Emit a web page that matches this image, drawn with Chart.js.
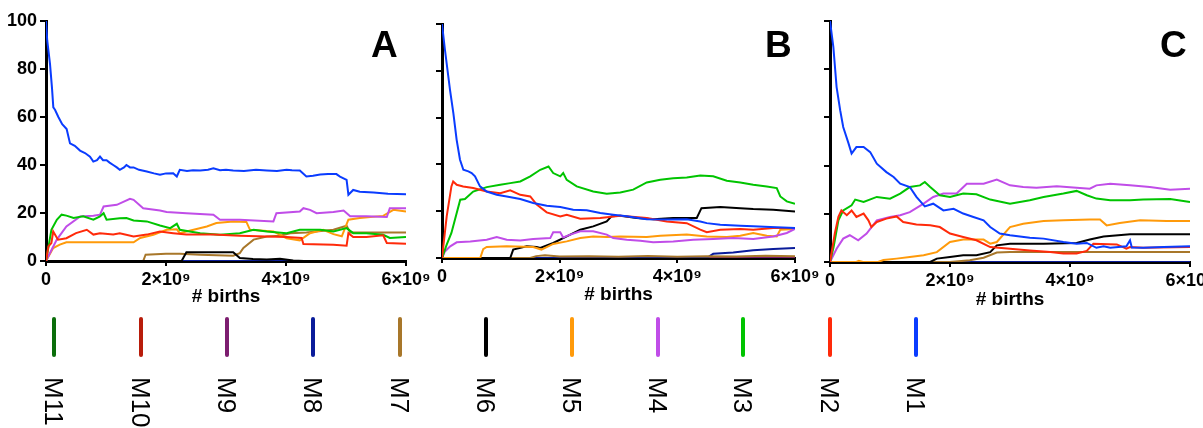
<!DOCTYPE html>
<html>
<head>
<meta charset="utf-8">
<script src="https://cdn.jsdelivr.net/npm/chart.js@4.4.1/dist/chart.umd.min.js"></script>
<style>
  html, body { margin:0; padding:0; background:#fff; width:1203px; height:428px; overflow:hidden; position:relative; font-family:"Liberation Sans", Arial, sans-serif; }
  canvas { position:absolute; top:0; }
  .letter { position:absolute; font-weight:bold; font-size:37px; line-height:1; color:#000; }
  .lbar { position:absolute; width:4px; height:40px; border-radius:2px; }
  .ltxt { position:absolute; writing-mode:vertical-rl; font-size:26px; line-height:1; color:#000; white-space:nowrap; }
</style>
</head>
<body>
<canvas id="cA" width="440" height="320" style="left:0px"></canvas>
<canvas id="cB" width="440" height="320" style="left:400px"></canvas>
<canvas id="cC" width="440" height="320" style="left:790px"></canvas>
<div class="letter" style="left:371px;top:26px">A</div>
<div class="letter" style="left:765px;top:26px">B</div>
<div class="letter" style="left:1160px;top:26px">C</div>
<div id="legend"></div>
<script>
// ---- series names, colours ----
const seriesNames = ['M1','M2','M3','M4','M5','M6','M7','M8','M9','M10','M11'];
const seriesColors = ['#0a3cff','#ff2a0a','#00c400','#c04de8','#ff9a0a','#000000','#a8772a','#0a1c9a','#7c1d6f','#b81c0a','#0b6e0b'];
const legendOrder = ['M11','M10','M9','M8','M7','M6','M5','M4','M3','M2','M1'];
// x values in units of 1e9 births; y in percent
const xTickValues = [0, 2, 4, 6];
const xTickLabels = ['0', '2×10⁹', '4×10⁹', '6×10⁹'];
const yTickValues = [0, 20, 40, 60, 80, 100];
const ZERO = [[0,0],[6,0]];

// ---- Panel A ----
const A_M1 = [[0,100],[0.02,92],[0.067,82],[0.1,72],[0.122,64],[0.15,63],[0.206,60],[0.27,57],[0.344,55],[0.4,49],[0.48,48],[0.567,46],[0.65,45],[0.733,43.5],[0.789,41.4],[0.85,42],[0.9,43.5],[0.95,42],[1.01,42],[1.06,41],[1.12,40],[1.18,39],[1.23,38],[1.3,39],[1.34,40],[1.4,39],[1.46,39],[1.55,38],[1.68,37.3],[1.8,36.5],[1.9,35.9],[2.0,36.5],[2.12,36.6],[2.18,35.2],[2.23,38],[2.35,37.5],[2.45,37.8],[2.57,37.7],[2.7,38],[2.79,38.6],[2.9,37.8],[3.0,38],[3.12,37.7],[3.3,37.5],[3.5,38],[3.68,37.7],[3.85,37.5],[4.01,38],[4.1,37.8],[4.23,37.7],[4.34,35.2],[4.45,35.5],[4.57,36],[4.7,36.2],[4.84,36.2],[4.9,35.2],[5.01,33.8],[5.04,27.6],[5.12,29.6],[5.23,28.9],[5.46,28.5],[5.7,28],[6,27.8]];
const A_M2 = [[0,0],[0.04,6.1],[0.09,7.5],[0.12,12.3],[0.2,8.9],[0.34,9.5],[0.5,11.6],[0.68,13],[0.79,11],[0.9,11.6],[1.12,11],[1.23,11.6],[1.46,10.2],[1.68,11],[1.9,12.3],[2.12,11.6],[2.34,11],[2.79,11],[3.23,10.5],[3.68,10.2],[4.01,10],[4.26,9.6],[4.29,7.1],[4.79,6.8],[5.01,6.4],[5.04,11.6],[5.12,10],[5.34,10],[5.62,10.7],[5.68,7.5],[6,7.2]];
const A_M3 = [[0,0],[0.09,13],[0.18,17.2],[0.26,19.3],[0.34,18.9],[0.46,17.9],[0.62,18.6],[0.79,17.2],[0.9,18.6],[0.96,19.9],[1.01,17.2],[1.23,17.8],[1.34,17.9],[1.46,16.9],[1.68,16.5],[1.9,14.8],[2.07,13.7],[2.18,15.5],[2.23,13],[2.57,11.6],[2.9,10.9],[3.23,11.6],[3.46,13],[3.68,12.3],[4.01,11.6],[4.23,13],[4.57,13],[4.79,12.3],[5.01,13.7],[5.12,11.6],[5.34,11.6],[5.62,10.9],[5.73,9.6],[6,10]];
const A_M4 = [[0,0],[0.1,5],[0.18,8.9],[0.34,14.4],[0.57,18.6],[0.79,18.9],[0.9,19.3],[0.96,22.7],[1.18,23.4],[1.4,25.9],[1.46,25.5],[1.62,22],[1.9,21],[2.01,20.4],[2.34,19.9],[2.79,19.3],[2.9,17.2],[3.23,17.2],[3.79,16.5],[3.84,19.9],[4.23,20.6],[4.29,22],[4.4,21.3],[4.51,19.9],[4.79,20.4],[4.96,21],[5.07,18.6],[5.34,18.6],[5.68,18.3],[5.73,22],[6,22]];
const A_M5 = [[0,0],[0.12,5.4],[0.23,6.8],[0.34,7.8],[0.68,7.8],[1.46,7.8],[1.57,9.6],[1.79,10.9],[2.01,13],[2.18,13.2],[2.23,11.6],[2.34,12.3],[2.68,14.4],[2.84,15.8],[3.12,16.5],[3.34,16.3],[3.4,13],[3.79,12.3],[4.01,9.5],[4.23,8.6],[4.4,11.6],[4.62,13],[4.79,11.2],[4.93,10.3],[5.04,17.2],[5.23,17.9],[5.62,18.8],[5.79,21.3],[6,20.6]];
const A_M6 = [[0,0],[2.26,0],[2.34,3.6],[3.12,3.6],[3.23,1.2],[3.45,0.8],[3.68,0.6],[3.9,0.9],[4.12,0.2],[4.3,0],[6,0]];
const A_M7 = [[0,0],[1.62,0],[1.66,2.6],[2.0,3],[2.23,3],[2.57,2.6],[3.12,2.2],[3.23,3.3],[3.29,5.4],[3.46,8.9],[3.68,10.2],[3.9,10.5],[4.07,11.6],[4.34,11.9],[4.79,13],[5.01,14.7],[5.07,11.9],[6,11.9]];
const A_M8 = ZERO, A_M9 = ZERO, A_M10 = ZERO, A_M11 = ZERO;

// ---- Panel B ----
const B_M1 = [[0,100],[0.05,89],[0.136,71.8],[0.193,61.9],[0.249,50.5],[0.306,42],[0.363,37.7],[0.448,37],[0.504,36.3],[0.561,34.9],[0.646,30.6],[0.76,28.4],[0.93,27],[1.1,26.3],[1.33,25.2],[1.55,23.5],[1.78,22.3],[2.01,21.8],[2.23,20.6],[2.46,20.4],[2.69,19.2],[2.91,18.5],[3.14,17.8],[3.48,16.6],[3.82,16.4],[4.16,16.6],[4.39,15.6],[4.5,14.9],[4.73,14.2],[5.07,13.8],[5.29,13.6],[5.58,13.2],[6,12.8]];
const B_M2 = [[0,0],[0.08,17.8],[0.16,30.6],[0.19,32.7],[0.25,31.3],[0.36,30.6],[0.53,29.9],[0.76,28.4],[0.99,27.7],[1.16,28.9],[1.33,27],[1.5,26.3],[1.61,22.8],[1.78,19.5],[2.01,17.8],[2.12,18.5],[2.35,16.8],[2.69,17.1],[3.03,18.1],[3.48,17.1],[3.82,15.6],[4.16,14.9],[4.39,12.1],[4.5,11],[4.73,12.1],[5.07,12.4],[5.29,12.1],[5.63,12.8],[6,12.8]];
const B_M3 = [[0,0],[0.08,5.7],[0.16,10.7],[0.25,19.2],[0.31,24.9],[0.39,25.2],[0.53,28.4],[0.76,30.3],[0.99,31.3],[1.16,32],[1.33,32.7],[1.5,34.9],[1.67,37.7],[1.81,39.1],[1.89,36.3],[2.01,34.9],[2.06,36.3],[2.12,33.4],[2.29,30.6],[2.57,28.4],[2.8,27.5],[3.03,28],[3.25,29.2],[3.48,32.3],[3.71,33.4],[3.93,34.1],[4.16,34.4],[4.39,35.3],[4.61,34.9],[4.84,33],[5.07,32.3],[5.29,31.3],[5.52,30.6],[5.69,29.9],[5.75,26.3],[5.86,24.2],[6,23.2]];
const B_M4 = [[0,0],[0.05,2.8],[0.14,5],[0.25,6.7],[0.48,7.1],[0.76,7.8],[0.93,9],[1.1,7.8],[1.33,7.5],[1.55,8.1],[1.84,8.5],[1.89,11],[2.01,11],[2.06,8.8],[2.18,10],[2.35,11.4],[2.57,11.4],[2.8,10],[2.91,8.5],[3.14,7.8],[3.37,7.4],[3.59,6.7],[3.93,7.1],[4.27,7.8],[4.61,8.1],[4.95,8.5],[5.29,8.1],[5.63,9.2],[5.86,10.7],[6,12.4]];
const B_M5 = [[0,0],[0.65,0],[0.7,3.8],[0.76,4.7],[1.1,5],[1.55,4.7],[1.69,3.6],[1.89,6],[2.12,7.1],[2.35,8.5],[2.57,9.2],[2.8,9],[3.03,9.2],[3.48,9],[3.71,9.5],[4.16,10],[4.5,9.2],[4.84,9],[5.07,9.5],[5.29,10.7],[5.52,9.5],[5.69,9.2],[5.75,12.1],[6,12.4]];
const B_M6 = [[0,0],[1.16,0],[1.21,3.6],[1.44,5],[1.61,4.7],[1.67,4.3],[1.89,6.4],[2.12,9.2],[2.35,12.1],[2.57,13.5],[2.8,15.6],[2.88,17.8],[3.03,18.1],[3.31,17.1],[3.59,16.6],[3.93,17.1],[4.33,17.1],[4.41,21.3],[4.73,21.8],[5.07,21.3],[5.29,20.9],[5.63,20.6],[6,19.9]];
const B_M7 = [[0,0],[1.5,0],[1.6,0.8],[1.75,1.2],[2.0,0.6],[2.5,0.7],[3.0,0.5],[3.5,0.9],[4.0,0.5],[4.5,0.8],[5.0,0.6],[5.5,1.0],[6,0.7]];
const B_M8 = [[0,0],[4.5,0],[4.61,1.8],[4.95,2.4],[5.29,3.3],[5.63,3.8],[6,4.3]];
const B_M9 = ZERO, B_M10 = ZERO, B_M11 = ZERO;

// ---- Panel C ----
const C_M1 = [[0,100],[0.056,89.2],[0.11,72.6],[0.17,62.9],[0.22,56],[0.31,49.1],[0.36,45],[0.44,47.7],[0.56,47.7],[0.67,45.6],[0.78,40.8],[0.94,37.3],[1.06,35.3],[1.17,32.5],[1.33,31.1],[1.44,27],[1.58,23.1],[1.72,24.2],[1.89,21.4],[2.06,22.1],[2.22,20.1],[2.39,18.7],[2.56,17.3],[2.67,14.5],[2.83,11.8],[3,11.1],[3.33,10.1],[3.56,9.7],[3.89,8.3],[4.11,7.6],[4.28,7.9],[4.44,5.9],[4.56,6.5],[4.67,5.9],[4.94,6.5],[5,9],[5.03,6],[5.22,5.9],[5.56,6.2],[6,6.5]];
const C_M2 = [[0,0],[0.08,11.8],[0.14,18.7],[0.19,21.4],[0.28,19.4],[0.36,21.4],[0.44,18.7],[0.56,20.1],[0.64,17.3],[0.69,14.5],[0.78,16.6],[0.94,18],[1.11,18.9],[1.22,16.6],[1.44,15.6],[1.67,15.2],[1.83,14.5],[2,11.8],[2.22,10.4],[2.44,9],[2.67,6.2],[3,5.5],[3.33,4.8],[3.67,4.1],[3.89,3.5],[4.11,3.5],[4.28,4.6],[4.39,7.6],[4.78,7.3],[4.94,5.5],[5,6.2],[5.22,5.9],[6,6.2]];
const C_M3 = [[0,0],[0.06,6.2],[0.14,17.3],[0.22,21.4],[0.36,23.5],[0.42,25.9],[0.56,24.9],[0.78,27],[1,26.3],[1.17,28.4],[1.33,31.1],[1.5,31.8],[1.58,33.2],[1.67,31.1],[1.83,27.7],[2,27],[2.22,28.4],[2.44,28.1],[2.67,25.9],[3,24.2],[3.33,25.6],[3.56,27],[3.89,28.4],[4.11,29.5],[4.28,27.7],[4.44,26.3],[4.67,25.6],[5,25.6],[5.22,25.9],[5.67,26.1],[6,24.9]];
const C_M4 = [[0,0],[0.11,5.5],[0.22,9.7],[0.33,11.1],[0.47,9],[0.61,11.8],[0.78,17.3],[1,18.7],[1.17,19.4],[1.33,20.7],[1.56,24.2],[1.72,27],[1.89,28.4],[2.11,28.4],[2.28,32.5],[2.56,32.5],[2.78,34.2],[3,31.8],[3.22,31.1],[3.44,30.8],[3.78,31.4],[4.11,30.8],[4.33,30.4],[4.44,31.8],[4.67,32.5],[5,31.8],[5.33,31.1],[5.67,30],[6,30.4]];
const C_M5 = [[0,0],[0.44,0],[0.48,0.5],[0.55,0],[0.8,0],[0.89,0.8],[1.11,1.4],[1.33,2.1],[1.56,2.8],[1.78,4.1],[2,8.3],[2.22,9.3],[2.56,9.3],[2.67,7.6],[2.78,8.3],[3,14.5],[3.22,15.9],[3.56,17],[3.89,17.3],[4.33,17.6],[4.5,17.6],[4.61,15.2],[4.83,16.2],[5.17,17.3],[5.61,17],[6,17]];
const C_M6 = [[0,0],[1.67,0],[1.78,1.4],[2,2.1],[2.22,2.8],[2.44,2.8],[2.67,4.1],[2.78,6.9],[3,7.6],[3.56,7.6],[4.11,7.9],[4.33,9.3],[4.56,10.6],[5,11.5],[6,11.5]];
const C_M7 = [[0,0],[2,0],[2.33,0.7],[2.56,1.8],[2.78,3.9],[3,4.1],[6,4.1]];
const C_M8 = ZERO, C_M9 = ZERO, C_M10 = ZERO, C_M11 = ZERO;

const panelA = [A_M1,A_M2,A_M3,A_M4,A_M5,A_M6,A_M7,A_M8,A_M9,A_M10,A_M11];
const panelB = [B_M1,B_M2,B_M3,B_M4,B_M5,B_M6,B_M7,B_M8,B_M9,B_M10,B_M11];
const panelC = [C_M1,C_M2,C_M3,C_M4,C_M5,C_M6,C_M7,C_M8,C_M9,C_M10,C_M11];

const FONT = "'Liberation Sans', Arial, sans-serif";

function makeChart(id, series, geo) {
  const datasets = series.map((pts, i) => ({
    label: seriesNames[i],
    data: pts.map(p => ({x: p[0], y: p[1]})),
    borderColor: seriesColors[i],
    backgroundColor: seriesColors[i],
    borderWidth: 2,
    pointRadius: 0,
    tension: 0,
    fill: false
  }));
  return new Chart(document.getElementById(id), {
    type: 'line',
    data: { datasets },
    options: {
      responsive: false,
      animation: false,
      devicePixelRatio: 1,
      layout: { padding: { top: geo.top, right: geo.right, bottom: geo.bottom, left: 0 } },
      plugins: { legend: { display: false }, tooltip: { enabled: false } },
      scales: {
        x: {
          type: 'linear', min: 0, max: 6,
          afterBuildTicks: s => { s.ticks = xTickValues.map(v => ({value: v})); },
          afterFit: s => { s.height = geo.xh; },
          ticks: {
            color: '#000', maxRotation: 0, autoSkip: false, padding: 3,
            font: { family: FONT, size: 18, weight: 'bold' },
            callback: v => { const k = xTickValues.indexOf(v); return k >= 0 ? xTickLabels[k] : ''; }
          },
          grid: { drawOnChartArea: false, drawTicks: true, tickLength: 5, color: '#000', lineWidth: 2 },
          border: { display: true, color: '#000', width: 3 },
          title: { display: true, text: '# births', color: '#000', font: { family: FONT, size: 19, weight: 'bold' }, padding: { top: 0, bottom: 4 } }
        },
        y: {
          type: 'linear', min: 0, max: 100,
          afterBuildTicks: s => { s.ticks = yTickValues.map(v => ({value: v})); },
          afterFit: s => { s.width = geo.yw; },
          ticks: {
            display: geo.yLabels, color: '#000', padding: 3,
            font: { family: FONT, size: 18, weight: 'bold' }
          },
          grid: { drawOnChartArea: false, drawTicks: true, tickLength: 6, color: '#000', lineWidth: 2 },
          border: { display: true, color: '#000', width: 3 }
        }
      }
    }
  });
}

makeChart('cA', panelA, { top: 21, right: 34, bottom: 8, xh: 51, yw: 46, yLabels: true });
makeChart('cB', panelB, { top: 24, right: 45, bottom: 10, xh: 52, yw: 42, yLabels: false });
makeChart('cC', panelC, { top: 21, right: 40, bottom: 5, xh: 53, yw: 40, yLabels: false });

// ---- legend ----
const legendX = [54, 141, 227, 313, 400, 486, 572, 658, 743, 830, 916];
const lg = document.getElementById('legend');
legendOrder.forEach((name, k) => {
  const i = seriesNames.indexOf(name);
  const b = document.createElement('div');
  b.className = 'lbar';
  b.style.left = (legendX[k] - 2) + 'px';
  b.style.top = '317px';
  b.style.background = seriesColors[i];
  lg.appendChild(b);
  const t = document.createElement('div');
  t.className = 'ltxt';
  t.textContent = name;
  t.style.top = '377px';
  t.style.left = (legendX[k] - 13) + 'px';
  t.style.width = '26px';
  lg.appendChild(t);
});
</script>
</body>
</html>
